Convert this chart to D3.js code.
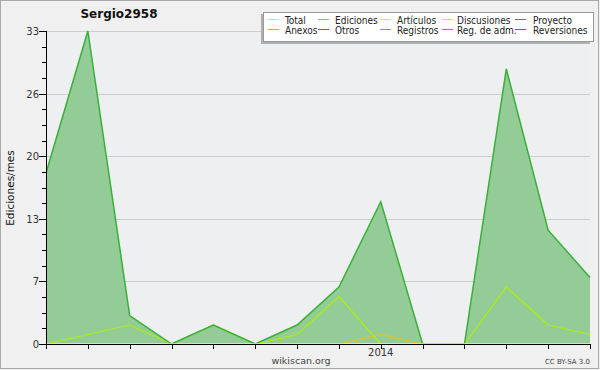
<!DOCTYPE html>
<html><head><meta charset="utf-8">
<script src="https://cdn.jsdelivr.net/npm/d3@7/dist/d3.min.js"></script>
<style>
html,body{margin:0;padding:0;background:#f0f0f0;}
svg{display:block;font-family:"DejaVu Sans",sans-serif;}
</style></head><body>
<svg id="c" width="600" height="370"></svg>
<script>
const months = ["2013-05","2013-06","2013-07","2013-08","2013-09","2013-10","2013-11","2013-12","2014-01","2014-02","2014-03","2014-04","2014-05","2014-06"];
const ediciones = [18,33,3,0,2,0,2,6,15,0,0,29,12,7];
const articulos = [0,1,2,0,2,0,1,5,0,0,0,6,2,1];
const discusiones = [0,0,0,0,0,0,0,0,1,0,0,0,0,0];
const yTickValues = [0,6.6,13.2,19.8,26.4,33];
const xTickLabels = {"2014-01":"2014"};
const legendItems = [
  ["Total","#a8e4e4"],["Ediciones","#80c880"],["Artículos","#c8f060"],["Discusiones","#ffd060"],["Proyecto","#707070"],
  ["Anexos","#ff9050"],["Otros","#9040e0"],["Registros","#8080ff"],["Reg. de adm.","#d050e0"],["Reversiones","#ee3030"]
];

const svg = d3.select("#c");
const W=600,H=370;
const L=46,R=590,T=31,B=344;

// frame
svg.append("rect").attr("x",0.5).attr("y",0.5).attr("width",W-2).attr("height",H-2).attr("fill","#f0f0f0").attr("stroke","#a8a8a8");
svg.append("rect").attr("x",L).attr("y",T).attr("width",R-L).attr("height",B-T).attr("fill","#eeeff1");

const x = d3.scalePoint().domain(months).range([L,R]);
const y = d3.scaleLinear().domain([0,33]).range([B,T]);

svg.append("clipPath").attr("id","clip").append("rect").attr("x",L).attr("y",T-3).attr("width",R-L+2).attr("height",B-T+2.3);

// grid
svg.append("g").selectAll("line").data(yTickValues).join("line")
  .attr("x1",L).attr("x2",R).attr("y1",d=>Math.round(y(d))+0.5).attr("y2",d=>Math.round(y(d))+0.5)
  .attr("stroke","#cccccc").attr("stroke-width",1);

// area
const area = d3.area().x((d,i)=>x(months[i])).y0(B).y1(d=>y(d));
const line = d3.line().x((d,i)=>x(months[i])).y(d=>y(d));
const pg = svg.append("g").attr("clip-path","url(#clip)");
pg.append("path").datum(ediciones).attr("d",area).attr("fill","#94cc98");
pg.append("path").datum(discusiones).attr("d",line).attr("fill","none").attr("stroke","#f0c010").attr("stroke-width",1.2);
pg.append("path").datum(articulos).attr("d",line).attr("fill","none").attr("stroke","#b0f000").attr("stroke-width",1.2);
pg.append("path").datum(ediciones).attr("d",line).attr("fill","none").attr("stroke","#38b038").attr("stroke-width",1.5);

// y axis
const yMinor = d3.range(0,21).map(i=>i*1.65);
const yg = svg.append("g");
yg.selectAll("line.minor").data(yMinor).join("line")
  .attr("x1",L-4).attr("x2",L).attr("y1",d=>Math.round(y(d))+0.5).attr("y2",d=>Math.round(y(d))+0.5)
  .attr("stroke","#000");
yg.selectAll("line.major").data(yTickValues).join("line")
  .attr("x1",L-7).attr("x2",L).attr("y1",d=>Math.round(y(d))+0.5).attr("y2",d=>Math.round(y(d))+0.5)
  .attr("stroke","#000");
yg.selectAll("text").data(yTickValues).join("text")
  .attr("x",L-7).attr("y",d=>y(d)+4).attr("text-anchor","end").attr("font-size",10).attr("fill","#333")
  .text(d=>Math.round(d));
svg.append("line").attr("x1",L+0.5).attr("x2",L+0.5).attr("y1",T).attr("y2",B+1).attr("stroke","#000");

// x axis
const xg = svg.append("g");
xg.selectAll("line").data(months.slice(0)).join("line")
  .attr("x1",d=>Math.round(x(d))+0.5).attr("x2",d=>Math.round(x(d))+0.5).attr("y1",B).attr("y2",B+5)
  .attr("stroke","#000");
xg.selectAll("text").data(months.filter(m=>xTickLabels[m])).join("text")
  .attr("x",d=>x(d)).attr("y",B+12).attr("text-anchor","middle").attr("font-size",10).attr("fill","#333")
  .text(d=>xTickLabels[d]);
svg.append("line").attr("x1",L).attr("x2",R+1).attr("y1",B+0.5).attr("y2",B+0.5).attr("stroke","#000");

// labels
svg.append("text").attr("x",119).attr("y",18).attr("text-anchor","middle").attr("font-size",12).attr("font-weight","bold").attr("fill","#111").text("Sergio2958");
svg.append("text").attr("transform","translate(14,188) rotate(-90)").attr("text-anchor","middle").attr("font-size",10.5).attr("fill","#111").text("Ediciones/mes");
svg.append("text").attr("x",301).attr("y",364).attr("text-anchor","middle").attr("font-size",9.5).attr("fill","#444").text("wikiscan.org");
svg.append("text").attr("x",590).attr("y",364).attr("text-anchor","end").attr("font-size",7).attr("fill","#444").text("CC BY-SA 3.0");

// legend
svg.append("rect").attr("x",261).attr("y",14).attr("width",329).attr("height",30).attr("fill","#b0b0b0");
svg.append("rect").attr("x",263.5).attr("y",12.5).attr("width",330).attr("height",29).attr("fill","#fff").attr("stroke","#999");
const colX=[268,318,380,442,515];
const textX=[285,335,397,457,533];
const lg = svg.append("g").style("font-family","'DejaVu Sans Condensed','DejaVu Sans',sans-serif");
legendItems.forEach((it,i)=>{
  const c=i%5, r=Math.floor(i/5);
  const yy = 19.5 + r*10;
  lg.append("line").attr("x1",colX[c]).attr("x2",colX[c]+11).attr("y1",yy).attr("y2",yy).attr("stroke",it[1]).attr("stroke-width",1);
  lg.append("text").attr("x",textX[c]).attr("y",yy+4).attr("font-size",10).attr("fill","#222").text(it[0]);
});
</script>
</body></html>
